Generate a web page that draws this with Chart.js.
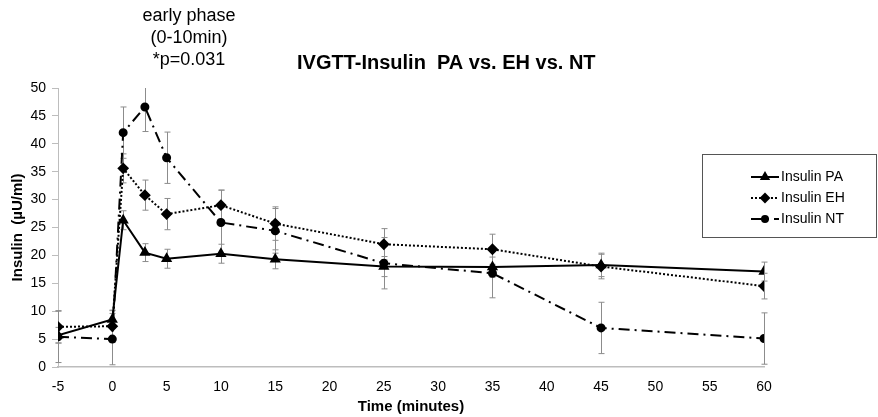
<!DOCTYPE html>
<html lang="en">
<head>
  <meta charset="UTF-8">
  <title>IVGTT-Insulin PA vs. EH vs. NT</title>
  <script src="https://cdn.jsdelivr.net/npm/chart.js"></script>
  <style>
    html, body { margin: 0; padding: 0; background: #fff; }
    .wrap { width: 878px; height: 417px; position: relative; }
  </style>
</head>
<body>
  <div class="wrap">
    <canvas id="chartInsulin"></canvas>
  </div>

  <script>
    // time points (minutes)
    const waktu = [-5, 0, 1, 3, 5, 10, 15, 25, 35, 45, 60];

    // mean values
    const insulinPA = [5.7, 8.5, 26.3, 20.5, 19.4, 20.3, 19.3, 18.0, 17.9, 18.3, 17.1];
    const insulinEH = [7.2, 7.3, 35.6, 30.8, 27.4, 29.0, 25.7, 22.0, 21.1, 18.0, 14.5];
    const insulinNT = [5.4, 5.0, 42.0, 46.6, 37.5, 25.9, 24.4, 18.6, 16.8, 7.0, 5.1];

    // error bar half-widths
    const errPA = [1.4, 1.6, 1.7, 1.6, 1.7, 1.7, 1.7, 1.8, 1.8, 2.1, 1.7];
    const errEH = [2.9, 2.9, 2.6, 2.7, 2.8, 2.7, 3.0, 2.8, 2.7, 2.2, 2.3];
    const errNT = [4.6, 4.6, 4.6, 4.4, 4.6, 5.8, 4.0, 4.6, 4.4, 4.6, 4.6];

    const seriesNames = ['Insulin PA', 'Insulin EH', 'Insulin NT'];
    const catatan = ['early phase', '(0-10min)', '*p=0.031'];
    const judul = 'IVGTT-Insulin  PA vs. EH vs. NT';

    const FONT = "'Liberation Sans', Arial, sans-serif";

    const toXY = arr => arr.map((v, i) => ({ x: waktu[i], y: v }));

    // error bars drawn from each dataset's err array
    const errorBars = {
      id: 'errorBars',
      beforeDatasetsDraw(chart) {
        const { ctx, scales: { x, y } } = chart;
        ctx.save();
        ctx.strokeStyle = '#8c8c8c';
        ctx.lineWidth = 1;
        chart.data.datasets.forEach(ds => {
          ds.data.forEach((p, i) => {
            const px = Math.round(x.getPixelForValue(p.x)) + 0.5;
            const yTop = y.getPixelForValue(Math.min(p.y + ds.err[i], 50));
            const yBot = y.getPixelForValue(p.y - ds.err[i]);
            ctx.beginPath();
            ctx.moveTo(px, yTop); ctx.lineTo(px, yBot);
            if (p.y + ds.err[i] <= 50) { ctx.moveTo(px - 3, yTop); ctx.lineTo(px + 3, yTop); }
            ctx.moveTo(px - 3, yBot); ctx.lineTo(px + 3, yBot);
            ctx.stroke();
          });
        });
        ctx.restore();
      }
    };

    // title, annotation and boxed legend
    const hiasan = {
      id: 'hiasan',
      afterDraw(chart) {
        const ctx = chart.ctx;
        ctx.save();
        ctx.fillStyle = '#000';
        ctx.textBaseline = 'middle';

        ctx.font = 'bold 20px ' + FONT;
        ctx.textAlign = 'left';
        ctx.fillText(judul, 297, 63);

        ctx.font = '18px ' + FONT;
        ctx.textAlign = 'center';
        catatan.forEach((t, i) => ctx.fillText(t, 189, 16 + i * 22));

        // legend box
        ctx.strokeStyle = '#555';
        ctx.lineWidth = 1;
        ctx.strokeRect(702.5, 154.5, 174, 83);
        ctx.font = '14px ' + FONT;
        ctx.textAlign = 'left';
        chart.data.datasets.forEach((ds, i) => {
          const ly = 177 + i * 21;
          ctx.strokeStyle = '#000';
          ctx.lineWidth = 2;
          ctx.setLineDash(ds.borderDash || []);
          ctx.beginPath();
          ctx.moveTo(751, ly); ctx.lineTo(779, ly);
          ctx.stroke();
          ctx.setLineDash([]);
          ctx.fillStyle = '#000';
          Chart.helpers.drawPoint(ctx, {
            pointStyle: ds.pointStyle, radius: ds.pointRadius - 0.5, rotation: 0, borderWidth: 1
          }, 765, ly);
          ctx.fillText(ds.label, 781, ly);
        });
        ctx.restore();
      }
    };

    const umum = { borderColor: '#000', backgroundColor: '#000', pointBorderColor: '#000',
                   pointBackgroundColor: '#000', borderWidth: 2, tension: 0, fill: false };

    new Chart(document.getElementById('chartInsulin'), {
      type: 'line',
      data: {
        datasets: [
          Object.assign({}, umum, { label: seriesNames[0], data: toXY(insulinPA), err: errPA,
            pointStyle: 'triangle', pointRadius: 4.5, borderDash: [] }),
          Object.assign({}, umum, { label: seriesNames[1], data: toXY(insulinEH), err: errEH,
            pointStyle: 'rectRot', pointRadius: 4.5, borderDash: [2, 2] }),
          Object.assign({}, umum, { label: seriesNames[2], data: toXY(insulinNT), err: errNT,
            pointStyle: 'circle', pointRadius: 3.5, borderDash: [11, 5, 2, 5] })
        ]
      },
      options: {
        responsive: true,
        maintainAspectRatio: false,
        animation: false,
        layout: { padding: { top: 88, right: 114, left: 0, bottom: 0 } },
        plugins: { legend: { display: false }, tooltip: { enabled: false }, title: { display: false } },
        scales: {
          x: {
            type: 'linear', min: -5, max: 60,
            afterFit(s) { s.height = 50; },
            grid: { display: false, drawTicks: false },
            border: { display: true, color: '#bdbdbd', width: 1.5 },
            ticks: { stepSize: 5, padding: 12, color: '#000', font: { family: FONT, size: 14 } },
            title: { display: true, text: 'Time (minutes)', color: '#000',
                     font: { family: FONT, size: 15, weight: 'bold' }, padding: { top: 0, bottom: 1 } }
          },
          y: {
            min: 0, max: 50,
            afterFit(s) { s.width = 58; },
            grid: { drawOnChartArea: false, tickLength: 6, color: '#bdbdbd' },
            border: { display: true, color: '#bdbdbd', width: 1 },
            ticks: { stepSize: 5, padding: 6, color: '#000', font: { family: FONT, size: 14 } },
            title: { display: true, text: 'Insulin  (µU/ml)', color: '#000',
                     font: { family: FONT, size: 15, weight: 'bold' }, padding: { top: 9, bottom: 0 } }
          }
        }
      },
      plugins: [errorBars, hiasan]
    });
  </script>
</body>
</html>
